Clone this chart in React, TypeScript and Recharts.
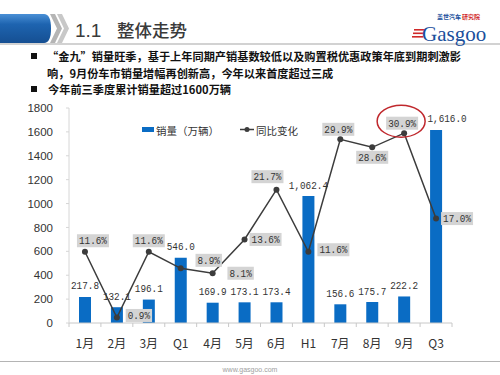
import { ComposedChart, Bar, Line, XAxis, YAxis, LabelList, Legend } from "recharts";

const categories = ["1月", "2月", "3月", "Q1", "4月", "5月", "6月", "H1", "7月", "8月", "9月", "Q3"];
const salesValues = [217.8, 132.1, 196.1, 546.0, 169.9, 173.1, 173.4, 1062.4, 156.6, 175.7, 222.2, 1616.0];
const yoyValues = [11.6, 0.9, 11.6, 8.9, 8.1, 13.6, 21.7, 11.6, 29.9, 28.6, 30.9, 17.0];
const yTicks = [0, 200, 400, 600, 800, 1000, 1200, 1400, 1600, 1800];

const bulletLines = [
  "“金九”销量旺季，基于上年同期产销基数较低以及购置税优惠政策年底到期刺激影",
  "响，9月份车市销量增幅再创新高，今年以来首度超过三成",
  "今年前三季度累计销量超过1600万辆",
];

// where each yoy label box sits, relative to its point (box centre)
const yoyLabelOffsets: [number, number][] = [
  [8, -11], [22, -2], [0, -11], [28, -8], [28, 0], [21, 0],
  [-9, -13], [25, -2], [-2, -10], [0, 10], [-2, -10], [21, 0],
];
// horizontal nudge of the sales labels (Q3 one sits right of the bar)
const salesLabelDx = [0, 0, 0, 0, 0, 0, 0, 0, 0, 0, 0, 11];
const highlightIndex = 10;

const BLUE = "#0a6cc4";
const LINE = "#3c3c3c";
const MONO = "'Liberation Mono', 'DejaVu Sans Mono', monospace";
const CJK = "'Noto Sans CJK SC', 'Noto Sans', sans-serif";
const CHAR_W = 5.6;

const data = categories.map((c, i) => ({ name: c, sales: salesValues[i], yoy: yoyValues[i] }));

const fmtSales = (v: any) =>
  Number(v).toLocaleString("en-US", { minimumFractionDigits: 1, maximumFractionDigits: 1 });

function NarrowText({ x, y, text }: { x: number; y: number; text: string }) {
  const w = text.length * CHAR_W;
  return (
    <text
      x={x - w / 2}
      y={y}
      textLength={w}
      lengthAdjust="spacingAndGlyphs"
      dominantBaseline="central"
      fontFamily={MONO}
      fontSize={11.5}
      fill="#333"
    >
      {text}
    </text>
  );
}

function SalesLabel(props: any) {
  const { x, y, width, index, value } = props;
  if (x == null || y == null) return null;
  const cx = x + width / 2 + (salesLabelDx[index] || 0);
  return <NarrowText x={cx} y={y - 11} text={fmtSales(value)} />;
}

function YoyLabel(props: any) {
  const { x, y, index, value } = props;
  if (x == null || y == null) return null;
  const [dx, dy] = yoyLabelOffsets[index] || [0, -10];
  const text = `${Number(value).toFixed(1)}%`;
  const w = text.length * CHAR_W + 4;
  const cx = x + dx;
  const cy = y + dy;
  return (
    <g>
      {index === highlightIndex && (
        <ellipse cx={x - 3} cy={y - 12} rx={24} ry={16} fill="none" stroke="#c0282d" strokeWidth={1.5} />
      )}
      <rect x={cx - w / 2} y={cy - 6.5} width={w} height={13} fill="#d4d4d4" />
      <NarrowText x={cx} y={cy} text={text} />
    </g>
  );
}

function XTick(props: any) {
  const { x, y, payload, index } = props;
  const half = payload?.offset || 16;
  return (
    <g>
      <line x1={x - half} x2={x - half} y1={y} y2={y + 4} stroke="#c8c8c8" />
      {index === categories.length - 1 && (
        <line x1={x + half} x2={x + half} y1={y} y2={y + 4} stroke="#c8c8c8" />
      )}
      <text x={x} y={y + 19} textAnchor="middle" dominantBaseline="central" fontFamily={CJK} fontSize={12} fill="#333">
        {payload.value}
      </text>
    </g>
  );
}

function LegendBox() {
  return (
    <svg width={170} height={16} style={{ display: "block" }}>
      <rect x={2} y={6} width={12} height={5} fill={BLUE} />
      <text x={16} y={9} dominantBaseline="central" fontFamily={CJK} fontSize={10.5} fill="#333">
        销量（万辆）
      </text>
      <line x1={100} x2={114} y1={8.5} y2={8.5} stroke={LINE} strokeWidth={1.5} />
      <circle cx={107} cy={8.5} r={2.5} fill={LINE} />
      <text x={116} y={9} dominantBaseline="central" fontFamily={CJK} fontSize={10.5} fill="#333">
        同比变化
      </text>
    </svg>
  );
}

export default function App() {
  return (
    <div style={{ position: "absolute", left: 0, top: 0, width: 500, height: 375, background: "#fff", overflow: "hidden" }}>
      {/* header, separators, footer */}
      <svg width={500} height={375} style={{ position: "absolute", left: 0, top: 0 }}>
        <defs>
          <linearGradient id="hdr" x1="0" y1="0" x2="0" y2="1">
            <stop offset="0" stopColor="#4a90d6" />
            <stop offset="0.35" stopColor="#1e64b0" />
            <stop offset="1" stopColor="#154f92" />
          </linearGradient>
        </defs>
        <rect x={0} y={43} width={500} height={2} fill="#d2d2d2" />
        <path d="M0 14 H44 Q51 14 51 28.5 Q51 43 44 43 H0 Z" fill="url(#hdr)" />
        <polygon points="50,14 55,14 62,28.5 55,43 50,43 57,28.5" fill="#b5b5b5" />
        <polygon points="57,14 62,14 69,28.5 62,43 57,43 64,28.5" fill="#c8c8c8" />
        <text x={75} y={37} fontFamily="'Liberation Sans', Arial, sans-serif" fontSize={19} fill="#3a3a3a">1.1</text>
        <text x={117} y={37} fontFamily={CJK} fontSize={17.5} fontWeight={500} fill="#3a3a3a">整体走势</text>
        {/* logo */}
        <text x={437} y={19} fontFamily={CJK} fontSize={6} fontWeight="bold" fill="#1a4f9c">盖世汽车</text>
        <text x={462} y={19} fontFamily={CJK} fontSize={6} fontWeight="bold" fill="#d02a2a">研究院</text>
        <rect x={414} y={29} width={11} height={1.6} fill="#d02a2a" />
        <rect x={413} y={32.5} width={11} height={1.6} fill="#d02a2a" />
        <rect x={412} y={36} width={11} height={1.6} fill="#d02a2a" />
        <text x={422} y={41} fontFamily="'Liberation Serif', serif" fontSize={21} fill="#1a4f9c">Gasgoo</text>
        {/* bullets */}
        <rect x={31} y={53} width={6} height={6} fill="#111" />
        <rect x={31} y={86} width={6} height={6} fill="#111" />
        <rect x={0} y={361} width={500} height={1} fill="#b4b4b4" />
        <text x={250} y={372} textAnchor="middle" fontFamily="'Liberation Sans', Arial, sans-serif" fontSize={7} fill="#a0a0a0">
          www.gasgoo.com
        </text>
      </svg>
      <div style={{ position: "absolute", left: 47, top: 48, fontFamily: CJK, fontSize: 11.2, fontWeight: "bold", color: "#111", lineHeight: "16.5px", whiteSpace: "nowrap" }}>
        <div>{bulletLines[0]}</div>
        <div>{bulletLines[1]}</div>
        <div style={{ marginLeft: 1 }}>{bulletLines[2]}</div>
      </div>
      <div style={{ position: "absolute", left: 0, top: 0 }}>
        <ComposedChart width={500} height={375} data={data} margin={{ top: 108, right: 48, bottom: 22, left: 0 }}>
          <XAxis
            dataKey="name"
            xAxisId="x"
            height={30}
            tickLine={false}
            tickSize={0}
            tickMargin={0}
            axisLine={{ stroke: "#c8c8c8" }}
            tick={<XTick />}
            interval={0}
          />
          <YAxis
            yAxisId="left"
            width={69}
            domain={[0, 1800]}
            ticks={yTicks}
            interval={0}
            axisLine={{ stroke: "#d6d6d6" }}
            tickLine={{ stroke: "#d6d6d6" }}
            tickSize={3}
            tickMargin={13}
            tick={{ fontSize: 11.5, fill: "#333", fontFamily: "'Liberation Sans', Arial, sans-serif" }}
          />
          <YAxis yAxisId="right" orientation="right" domain={[0, 35]} hide />
          <Legend
            layout="horizontal"
            verticalAlign="middle"
            align="center"
            content={<LegendBox />}
            wrapperStyle={{ position: "absolute", left: 140, top: 121, width: 170, height: 16 }}
          />
          <Bar dataKey="sales" xAxisId="x" yAxisId="left" fill={BLUE} barSize={12} isAnimationActive={false}>
            <LabelList dataKey="sales" content={<SalesLabel />} />
          </Bar>
          <Line
            dataKey="yoy"
            xAxisId="x"
            yAxisId="right"
            stroke={LINE}
            strokeWidth={1.5}
            dot={{ r: 3, fill: LINE, stroke: LINE, strokeWidth: 0 }}
            isAnimationActive={false}
          >
            <LabelList dataKey="yoy" content={<YoyLabel />} />
          </Line>
        </ComposedChart>
      </div>
    </div>
  );
}
